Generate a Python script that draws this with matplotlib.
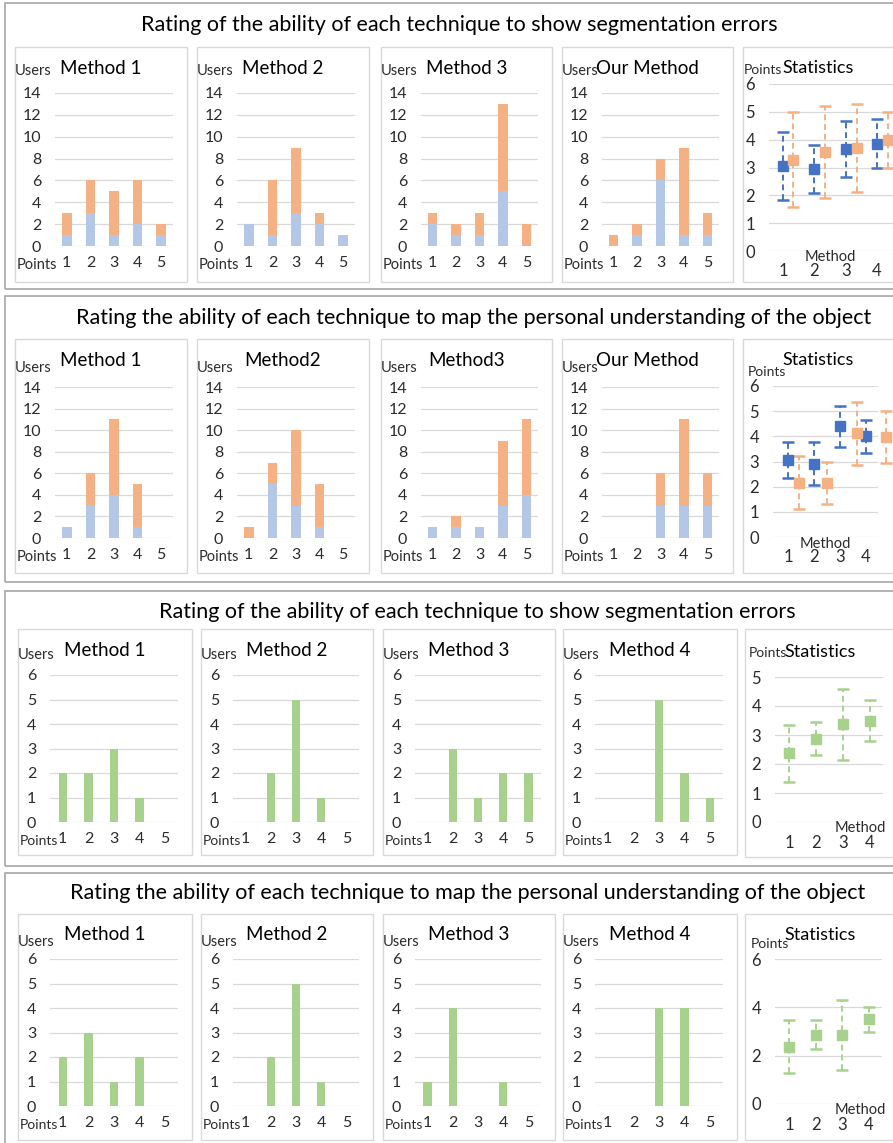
import numpy as np
import matplotlib
matplotlib.use("Agg")
import matplotlib.pyplot as plt
from matplotlib.patches import Rectangle

plt.rcParams['font.family'] = ['Lato', 'DejaVu Sans']

W, H = 893, 1143

# ---- data ----
points = [1, 2, 3, 4, 5]
methods = [1, 2, 3, 4]

block_titles = ["Rating of the ability of each technique to show segmentation errors",
                "Rating the ability of each technique to map the personal understanding of the object",
                "Rating of the ability of each technique to show segmentation errors",
                "Rating the ability of each technique to map the personal understanding of the object"]

row1_names = ["Method 1", "Method 2", "Method 3", "Our Method"]
row1_blue = [[1, 3, 1, 2, 1], [2, 1, 3, 2, 1], [2, 1, 1, 5, 0], [0, 1, 6, 1, 1]]
row1_orange = [[2, 3, 4, 4, 1], [0, 5, 6, 1, 0], [1, 1, 2, 8, 2], [1, 1, 2, 8, 2]]

row2_names = ["Method 1", "Method2", "Method3", "Our Method"]
row2_blue = [[1, 3, 4, 1, 0], [0, 5, 3, 1, 0], [1, 1, 1, 3, 4], [0, 0, 3, 3, 3]]
row2_orange = [[0, 3, 7, 4, 0], [1, 2, 7, 4, 0], [0, 1, 0, 6, 7], [0, 0, 3, 8, 3]]

row3_names = ["Method 1", "Method 2", "Method 3", "Method 4"]
row3_users = [[2, 2, 3, 1, 0], [0, 2, 5, 1, 0], [0, 3, 1, 2, 2], [0, 0, 5, 2, 1]]

row4_names = ["Method 1", "Method 2", "Method 3", "Method 4"]
row4_users = [[2, 3, 1, 2, 0], [0, 2, 5, 1, 0], [1, 4, 0, 1, 0], [0, 0, 4, 4, 0]]

# statistics (mean and error) per method
row1_blue_x = [1, 2, 3, 4]
row1_blue_mean = [3.07, 2.94, 3.66, 3.85]
row1_blue_err = [1.22, 0.86, 1.00, 0.88]
row1_orange_x = [1.32, 2.35, 3.35, 4.35]
row1_orange_mean = [3.28, 3.56, 3.70, 4.00]
row1_orange_err = [1.70, 1.64, 1.59, 1.00]

row2_blue_x = [1, 2, 3, 4]
row2_blue_mean = [3.06, 2.92, 4.40, 4.00]
row2_blue_err = [0.70, 0.86, 0.82, 0.66]
row2_orange_x = [1.42, 2.5, 3.65, 4.77]
row2_orange_mean = [2.15, 2.15, 4.12, 3.98]
row2_orange_err = [1.05, 0.85, 1.26, 1.02]

row3_mean = [2.375, 2.875, 3.375, 3.5]
row3_err = [0.98, 0.58, 1.22, 0.70]

row4_mean = [2.375, 2.86, 2.86, 3.5]
row4_err = [1.10, 0.60, 1.45, 0.50]

BLUE_BAR, ORANGE_BAR, GREEN_BAR = '#B4C7E7', '#F4B183', '#A9D18E'
GRID = '#D9D9D9'
TXT = '#2b2b2b'

fig = plt.figure(figsize=(W / 100, H / 100), dpi=100)


def rect(x0, y0, x1, y1):
    return [x0 / W, 1 - y1 / H, (x1 - x0) / W, (y1 - y0) / H]


def ftext(x, y, s, **kw):
    fig.text(x / W, 1 - y / H, s, **kw)


def frame(x0, y0, x1, y1, color, lw):
    fig.add_artist(Rectangle((x0 / W, 1 - y1 / H), (x1 - x0) / W, (y1 - y0) / H,
                             transform=fig.transFigure, fill=False, ec=color, lw=lw))


def style_axes(ax, fs):
    for s in ax.spines.values():
        s.set_visible(False)
    ax.yaxis.grid(True, color=GRID, lw=0.9)
    ax.set_axisbelow(True)
    ax.tick_params(axis='y', length=0, labelsize=fs, pad=10, labelcolor=TXT)
    ax.tick_params(axis='x', length=0, labelsize=fs, pad=7, labelcolor=TXT)


def bar_panel(px0, px1, geo, L, title, stacks, colors, ymax, width, pts_fs):
    py0, py1, ax_top, ax_bot, title_y, users_y = geo
    frame(px0, py0, px1, py1, GRID, 1)
    ax = fig.add_axes(rect(px0 + L, ax_top, px1 - 14, ax_bot))
    bottom = np.zeros(len(points))
    for vals, c in zip(stacks, colors):
        ax.bar(points, vals, width, bottom=bottom, color=c)
        bottom += np.array(vals)
    ax.set_xlim(0.5, 5.5)
    ax.set_ylim(0, ymax)
    ax.set_yticks(range(0, ymax + 1, 2 if ymax > 6 else 1))
    ax.set_xticks(points)
    style_axes(ax, 11.5)
    ftext((px0 + px1) / 2, title_y, title, ha='center', va='center', fontsize=13.5)
    ftext(px0 + 18, users_y, "Users", ha='center', va='center', fontsize=10.5, color=TXT)
    ftext(px0 + 2, ax_bot + 19, "Points", ha='left', va='center', fontsize=pts_fs, color=TXT)


def stats_panel(px0, py0, py1, axpx, xlim, ymax, ystep, series, title_y, pts_xy, meth_xy):
    frame(px0, py0, 900, py1, GRID, 1)
    ax = fig.add_axes(rect(*axpx))
    for x, m, e, mc, lc, cc in series:
        _, caps, bars = ax.errorbar(x, m, yerr=e, fmt='s', ms=7.5, mfc=mc, mec=mc,
                                    ecolor=lc, elinewidth=1.4, capsize=4.5, capthick=1.8,
                                    clip_on=False, zorder=3)
        bars[0].set_linestyle((0, (3, 2)))
        for c in caps:
            c.set_color(cc)
            c.set_clip_on(False)
        bars[0].set_clip_on(False)
    ax.set_xlim(*xlim)
    ax.set_ylim(0, ymax)
    ax.set_yticks(range(0, ymax + 1, ystep))
    ax.set_xticks(methods)
    style_axes(ax, 12)
    ax.tick_params(axis='x', pad=9)
    ftext(px0 + 75, title_y, "Statistics", ha='center', va='center', fontsize=13)
    ftext(pts_xy[0], pts_xy[1], "Points", ha='center', va='center', fontsize=10, color=TXT)
    ftext(meth_xy[0], meth_xy[1], "Method", ha='center', va='center', fontsize=10.5, color=TXT)


# outer blocks
block_boxes = [(5, 3, 289), (5, 296, 582), (5, 591, 866), (5, 873, 1150)]
title_pos = [(459, 25), (474, 318), (477, 612), (468, 893)]
for (x0, y0, y1), (tx, ty), t in zip(block_boxes, title_pos, block_titles):
    frame(x0, y0, 900, y1, '#A6A6A6', 1.2)
    ftext(tx, ty, t, ha='center', va='center', fontsize=15.5)

cols_a = [(15, 187), (197, 369), (381, 552), (562, 733)]
cols_b = [(18, 192), (201, 373), (383, 555), (563, 737)]
geos = [(47, 282, 93, 246, 68, 71),
        (339, 573, 387, 538, 360, 368),
        (629, 855, 675, 822, 650, 655),
        (914, 1140, 959, 1106, 935, 942)]

for i in range(4):
    bar_panel(*cols_a[i], geos[0], 40, row1_names[i], [row1_blue[i], row1_orange[i]],
              [BLUE_BAR, ORANGE_BAR], 14, 0.4, 10.5)
    bar_panel(*cols_a[i], geos[1], 40, row2_names[i], [row2_blue[i], row2_orange[i]],
              [BLUE_BAR, ORANGE_BAR], 14, 0.4, 10.5)
    bar_panel(*cols_b[i], geos[2], 32, row3_names[i], [row3_users[i]], [GREEN_BAR], 6, 0.33, 10)
    bar_panel(*cols_b[i], geos[3], 32, row4_names[i], [row4_users[i]], [GREEN_BAR], 6, 0.33, 10)

blue_s = ('#4472C4', '#4472C4', '#2F5597')
orange_s = ('#F4B183', '#F4B183', '#ED7D31')
green_s = ('#A9D18E', '#A9D18E', '#70AD47')

stats_panel(743, 47, 282, (769, 84, 893, 251), (0.553, 4.51), 6, 1,
            [(row1_blue_x, row1_blue_mean, row1_blue_err) + blue_s,
             (row1_orange_x, row1_orange_mean, row1_orange_err) + orange_s],
            68, (763, 70), (830, 257))
stats_panel(743, 339, 573, (773, 386, 878, 537), (0.423, 4.46), 6, 1,
            [(row2_blue_x, row2_blue_mean, row2_blue_err) + blue_s,
             (row2_orange_x, row2_orange_mean, row2_orange_err) + orange_s],
            360, (767, 372), (825, 544))
stats_panel(745, 629, 857, (775, 677, 883, 822), (0.48, 4.48), 5, 1,
            [(methods, row3_mean, row3_err) + green_s],
            652, (768, 653), (860, 828))
stats_panel(745, 914, 1140, (775, 959, 882, 1104), (0.475, 4.49), 6, 2,
            [(methods, row4_mean, row4_err) + green_s],
            935, (770, 944), (860, 1110))

fig.savefig("out.png", dpi=100, facecolor='white')
